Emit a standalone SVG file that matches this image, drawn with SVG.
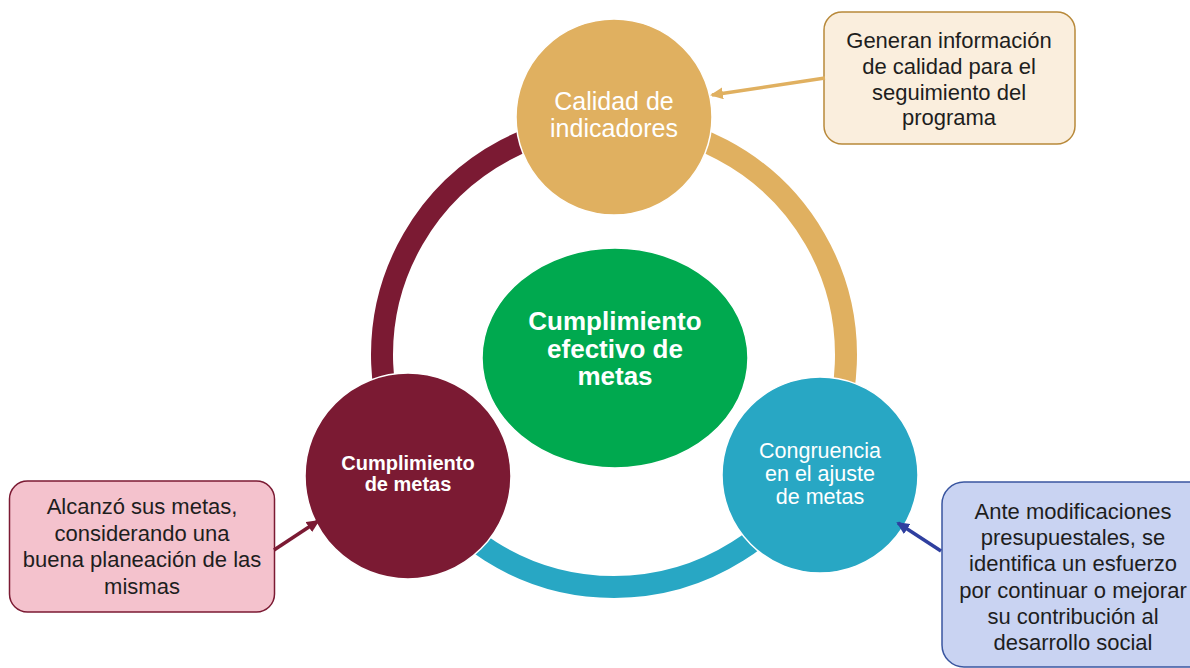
<svg xmlns="http://www.w3.org/2000/svg" width="1190" height="668" viewBox="0 0 1190 668">
<style>
.ring{fill:none;stroke-width:22}
.node{stroke:#fff;stroke-width:1.5}
.t{font-family:"Liberation Sans",Arial,sans-serif;text-anchor:middle}
.wt{fill:#fff}
.bt{fill:#1e1e1e;font-size:22px}
.box{stroke-width:1.5}
.arr{stroke-width:3.5;fill:none}
</style>
<defs>
<marker id="mGold" markerWidth="13" markerHeight="12" refX="11" refY="6" orient="auto" markerUnits="userSpaceOnUse" viewBox="0 0 13 12"><path d="M0,0 L13,6 L0,12 z" fill="#E0B060"/></marker>
<marker id="mMar" markerWidth="13" markerHeight="12" refX="11" refY="6" orient="auto" markerUnits="userSpaceOnUse" viewBox="0 0 13 12"><path d="M0,0 L13,6 L0,12 z" fill="#7B1A33"/></marker>
<marker id="mBlue" markerWidth="13" markerHeight="12" refX="11" refY="6" orient="auto" markerUnits="userSpaceOnUse" viewBox="0 0 13 12"><path d="M0,0 L13,6 L0,12 z" fill="#2F3F9F"/></marker>
</defs>
<rect width="1190" height="668" fill="#fff"/>
<g id="ring">
<path class="ring" stroke="#7B1A33" d="M413.1 471 A232 232 0 0 1 614 123"/>
<path class="ring" stroke="#E0B060" d="M614 123 A232 232 0 0 1 814.9 471"/>
<path class="ring" stroke="#28A7C4" d="M814.9 471 A232 232 0 0 1 413.1 471"/>
</g>
<g id="center">
<ellipse class="node" cx="615" cy="358" rx="133" ry="110" fill="#00A94F"/>
<text class="t wt" font-size="26" font-weight="bold"><tspan x="615" y="330">Cumplimiento</tspan><tspan x="615" y="357.5">efectivo de</tspan><tspan x="615" y="385">metas</tspan></text>
</g>
<g id="calidad">
<circle class="node" cx="614" cy="117" r="98" fill="#E0B060"/>
<text class="t wt" font-size="25"><tspan x="614" y="110">Calidad de</tspan><tspan x="614" y="137">indicadores</tspan></text>
</g>
<g id="cumplimiento">
<circle class="node" cx="408" cy="476" r="103" fill="#7B1A33"/>
<text class="t wt" font-size="20" font-weight="bold"><tspan x="408" y="470">Cumplimiento</tspan><tspan x="408" y="491">de metas</tspan></text>
</g>
<g id="congruencia">
<circle class="node" cx="820" cy="475" r="98" fill="#28A7C4"/>
<text class="t wt" font-size="21.5"><tspan x="820" y="458">Congruencia</tspan><tspan x="820" y="481">en el ajuste</tspan><tspan x="820" y="504">de metas</tspan></text>
</g>
<g id="nota-calidad">
<rect class="box" x="824" y="12" width="251" height="132" rx="18" fill="#FAEEDD" stroke="#B8893A"/>
<text class="t bt"><tspan x="949" y="48">Generan información</tspan><tspan x="949" y="74">de calidad para el</tspan><tspan x="949" y="99.5">seguimiento del</tspan><tspan x="949" y="125">programa</tspan></text>
</g>
<g id="nota-cumplimiento">
<rect class="box" x="9.5" y="481" width="265" height="131" rx="18" fill="#F4C2CD" stroke="#7B1A33"/>
<text class="t bt"><tspan x="142" y="514">Alcanzó sus metas,</tspan><tspan x="142" y="540.5">considerando una</tspan><tspan x="142" y="567">buena planeación de las</tspan><tspan x="142" y="594">mismas</tspan></text>
</g>
<g id="nota-congruencia">
<rect class="box" x="942" y="482" width="270" height="185" rx="22" fill="#C9D3F2" stroke="#3A56A0"/>
<text class="t bt"><tspan x="1073" y="519">Ante modificaciones</tspan><tspan x="1073" y="545">presupuestales, se</tspan><tspan x="1073" y="571">identifica un esfuerzo</tspan><tspan x="1073" y="598">por continuar o mejorar</tspan><tspan x="1073" y="624">su contribución al</tspan><tspan x="1073" y="650">desarrollo social</tspan></text>
</g>
<g id="connectors">
<line class="arr" x1="825" y1="78" x2="712" y2="95" stroke="#E0B060" marker-end="url(#mGold)"/>
<line class="arr" x1="274" y1="550" x2="318" y2="521" stroke="#7B1A33" marker-end="url(#mMar)"/>
<line class="arr" x1="941" y1="551" x2="898" y2="523" stroke="#2F3F9F" marker-end="url(#mBlue)"/>
</g>
</svg>
